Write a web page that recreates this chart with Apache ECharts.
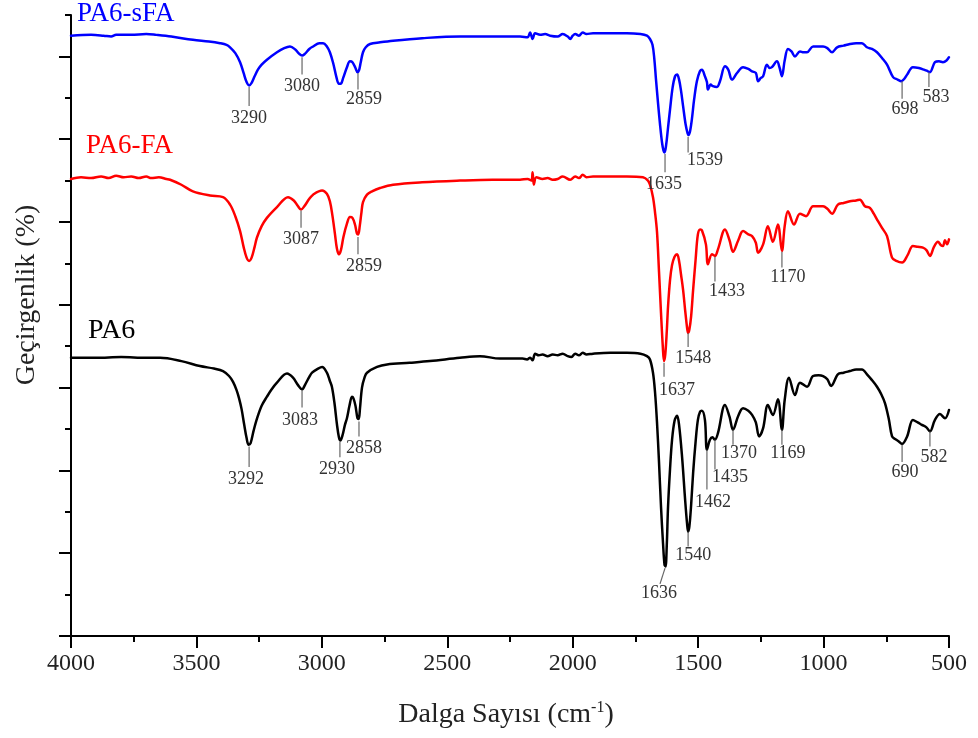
<!DOCTYPE html>
<html>
<head>
<meta charset="utf-8">
<script src="https://cdn.jsdelivr.net/npm/echarts@6/dist/echarts.min.js"></script>
<style>
html,body{margin:0;padding:0;background:#fff;}
#chart{width:978px;height:738px;}
</style>
</head>
<body>
<div id="chart"></div>
<script>
// ---- Data (wavenumber cm-1, transmittance in arbitrary offset units) ----
const seriesNames = ['PA6-sFA', 'PA6-FA', 'PA6'];

const pa6sFA = [
[4000,7.25],[3920,7.26],[3870,7.25],[3840,7.24],[3820,7.26],[3760,7.26],[3700,7.27],[3660,7.26],[3600,7.24],[3514,7.20],[3450,7.18],[3406,7.16],[3380,7.14],[3366,7.11],[3345,7.04],[3326,6.93],[3312,6.80],[3300,6.69],[3290,6.65],[3280,6.68],[3268,6.76],[3255,6.84],[3240,6.90],[3219,6.96],[3179,7.05],[3150,7.10],[3127,7.12],[3105,7.08],[3090,7.03],[3079,7.01],[3068,7.03],[3050,7.09],[3035,7.12],[3010,7.16],[2995,7.16],[2980,7.12],[2968,7.05],[2955,6.92],[2942,6.75],[2932,6.67],[2925,6.67],[2915,6.74],[2900,6.87],[2888,6.94],[2878,6.93],[2866,6.86],[2858,6.81],[2852,6.83],[2845,6.93],[2836,7.05],[2825,7.11],[2808,7.15],[2768,7.17],[2716,7.19],[2600,7.22],[2449,7.24],[2320,7.24],[2210,7.24],[2180,7.23],[2170,7.29],[2160,7.21],[2150,7.28],[2130,7.26],[2110,7.27],[2090,7.25],[2060,7.24],[2040,7.27],[2020,7.24],[2010,7.21],[2000,7.25],[1990,7.27],[1975,7.25],[1960,7.29],[1945,7.27],[1919,7.28],[1850,7.28],[1784,7.28],[1730,7.27],[1704,7.25],[1692,7.21],[1682,7.14],[1675,6.98],[1668,6.72],[1660,6.44],[1652,6.18],[1644,5.96],[1638,5.86],[1634,5.84],[1628,5.92],[1620,6.14],[1612,6.36],[1602,6.62],[1592,6.76],[1584,6.78],[1576,6.72],[1568,6.58],[1560,6.40],[1550,6.18],[1542,6.07],[1538,6.05],[1532,6.10],[1525,6.24],[1516,6.48],[1505,6.70],[1493,6.82],[1485,6.84],[1473,6.76],[1465,6.69],[1461,6.60],[1450,6.66],[1441,6.64],[1425,6.63],[1413,6.70],[1393,6.88],[1380,6.84],[1365,6.72],[1345,6.80],[1321,6.87],[1300,6.85],[1285,6.82],[1270,6.80],[1261,6.70],[1250,6.74],[1241,6.76],[1226,6.90],[1215,6.86],[1206,6.87],[1186,6.94],[1175,6.86],[1166,6.76],[1155,6.95],[1142,7.09],[1128,7.06],[1114,7.00],[1094,7.06],[1080,7.05],[1066,7.05],[1042,7.12],[1020,7.12],[1002,7.12],[985,7.10],[966,7.05],[946,7.11],[920,7.13],[895,7.15],[870,7.16],[847,7.16],[827,7.11],[807,7.09],[787,7.05],[767,6.98],[747,6.90],[723,6.75],[705,6.72],[690,6.70],[678,6.73],[667,6.78],[644,6.87],[620,6.86],[600,6.84],[584,6.82],[576,6.81],[556,6.93],[540,6.94],[524,6.93],[510,6.95],[500,6.99]
];

const pa6FA = [
[4000,5.52],[3960,5.54],[3920,5.53],[3880,5.55],[3850,5.53],[3820,5.56],[3790,5.54],[3760,5.55],[3730,5.53],[3700,5.55],[3680,5.53],[3650,5.54],[3620,5.52],[3605,5.51],[3560,5.45],[3514,5.37],[3446,5.32],[3394,5.30],[3366,5.21],[3345,5.07],[3326,4.89],[3312,4.70],[3300,4.57],[3290,4.53],[3280,4.57],[3268,4.70],[3259,4.81],[3240,4.95],[3219,5.05],[3179,5.18],[3135,5.30],[3112,5.26],[3095,5.19],[3083,5.15],[3070,5.19],[3050,5.28],[3035,5.33],[2999,5.38],[2980,5.34],[2968,5.25],[2958,5.08],[2948,4.86],[2940,4.68],[2932,4.61],[2924,4.66],[2914,4.82],[2900,4.98],[2888,5.06],[2878,5.05],[2868,4.97],[2860,4.86],[2855,4.85],[2849,4.95],[2842,5.12],[2836,5.24],[2820,5.33],[2800,5.37],[2768,5.41],[2716,5.45],[2600,5.48],[2449,5.50],[2320,5.51],[2210,5.51],[2180,5.52],[2165,5.50],[2160,5.60],[2155,5.45],[2145,5.54],[2120,5.52],[2100,5.53],[2080,5.51],[2060,5.52],[2040,5.55],[2010,5.51],[1990,5.55],[1975,5.53],[1960,5.57],[1945,5.54],[1919,5.55],[1850,5.55],[1784,5.55],[1720,5.54],[1700,5.50],[1692,5.45],[1680,5.30],[1672,5.12],[1664,4.88],[1656,4.40],[1648,3.90],[1641,3.50],[1636,3.32],[1631,3.40],[1625,3.68],[1620,3.98],[1612,4.30],[1604,4.48],[1594,4.58],[1584,4.61],[1576,4.53],[1568,4.36],[1560,4.18],[1552,3.94],[1544,3.72],[1540,3.66],[1535,3.70],[1528,3.86],[1520,4.18],[1510,4.55],[1501,4.85],[1492,4.91],[1485,4.90],[1469,4.73],[1461,4.49],[1445,4.61],[1433,4.59],[1421,4.67],[1393,4.91],[1375,4.78],[1361,4.64],[1340,4.78],[1321,4.89],[1300,4.85],[1285,4.83],[1270,4.75],[1261,4.63],[1241,4.73],[1222,4.95],[1202,4.76],[1182,4.97],[1166,4.65],[1155,4.95],[1142,5.13],[1118,4.97],[1094,5.10],[1070,5.07],[1042,5.19],[1020,5.19],[1002,5.19],[985,5.16],[966,5.10],[943,5.21],[920,5.23],[895,5.25],[870,5.26],[855,5.27],[835,5.19],[815,5.17],[800,5.10],[783,5.01],[765,4.92],[747,4.83],[727,4.57],[710,4.53],[687,4.51],[665,4.60],[644,4.71],[625,4.70],[604,4.69],[590,4.66],[576,4.59],[560,4.70],[544,4.76],[532,4.72],[524,4.71],[516,4.78],[508,4.73],[500,4.79]
];

const pa6 = [
[4000,3.36],[3900,3.36],[3800,3.37],[3700,3.36],[3645,3.36],[3560,3.32],[3486,3.26],[3430,3.23],[3394,3.20],[3370,3.14],[3354,3.07],[3340,2.97],[3330,2.87],[3320,2.74],[3310,2.56],[3300,2.39],[3292,2.31],[3284,2.33],[3272,2.48],[3258,2.63],[3240,2.78],[3219,2.89],[3200,2.98],[3179,3.06],[3139,3.17],[3115,3.12],[3095,3.03],[3079,2.98],[3066,3.04],[3050,3.13],[3039,3.18],[3015,3.23],[2999,3.25],[2980,3.18],[2968,3.08],[2960,3.01],[2950,2.82],[2940,2.56],[2932,2.40],[2926,2.36],[2918,2.42],[2908,2.55],[2900,2.63],[2890,2.78],[2880,2.89],[2874,2.87],[2866,2.78],[2858,2.63],[2853,2.62],[2848,2.75],[2840,3.00],[2830,3.12],[2820,3.18],[2780,3.25],[2740,3.28],[2650,3.30],[2569,3.32],[2450,3.36],[2370,3.38],[2290,3.35],[2200,3.35],[2182,3.34],[2170,3.36],[2160,3.33],[2150,3.41],[2135,3.39],[2120,3.40],[2100,3.38],[2080,3.40],[2060,3.39],[2040,3.41],[2020,3.38],[2005,3.37],[1990,3.41],[1975,3.39],[1960,3.42],[1945,3.40],[1919,3.41],[1850,3.42],[1784,3.42],[1730,3.41],[1704,3.38],[1692,3.34],[1680,3.18],[1672,2.95],[1664,2.58],[1656,2.10],[1648,1.56],[1640,1.12],[1634,0.86],[1630,0.84],[1625,1.10],[1620,1.56],[1612,2.02],[1604,2.37],[1594,2.60],[1584,2.66],[1576,2.55],[1564,2.16],[1552,1.65],[1544,1.35],[1540,1.26],[1535,1.32],[1528,1.58],[1520,1.97],[1510,2.35],[1501,2.61],[1492,2.71],[1485,2.72],[1473,2.61],[1465,2.25],[1453,2.37],[1443,2.40],[1433,2.37],[1421,2.45],[1393,2.79],[1375,2.65],[1361,2.49],[1340,2.66],[1321,2.75],[1300,2.72],[1285,2.67],[1270,2.58],[1257,2.41],[1241,2.51],[1222,2.79],[1202,2.67],[1182,2.86],[1166,2.49],[1155,2.85],[1138,3.12],[1114,2.91],[1094,3.06],[1066,3.01],[1042,3.14],[1020,3.15],[1002,3.14],[985,3.10],[970,3.02],[943,3.16],[920,3.18],[895,3.20],[870,3.22],[847,3.22],[827,3.16],[807,3.09],[787,3.01],[770,2.92],[755,2.81],[740,2.62],[727,2.41],[715,2.38],[700,2.35],[687,2.32],[667,2.41],[644,2.61],[625,2.58],[608,2.55],[590,2.52],[576,2.47],[556,2.61],[536,2.68],[516,2.63],[500,2.73]
];

// Peak annotations: label text, then tick top (wn, T), tick bottom (wn, T), label centre (wn, T)
const peakText = ['3290','3080','2859','1635','1539','698','583',
                  '3087','2859','1637','1548','1433','1170',
                  '3292','3083','2930','2858','1636','1540','1462','1435','1370','1169','690','582'];
const peakCoords = [
[3290,6.63,3290,6.40,3290,6.25],
[3079,6.99,3079,6.78,3079,6.64],
[2856,6.80,2856,6.60,2832,6.48],
[1632,5.82,1632,5.60,1636,5.45],
[1540,6.03,1540,5.84,1473,5.74],
[687,6.70,687,6.49,675,6.36],
[580,6.81,580,6.63,552,6.51],
[3083,5.14,3083,4.93,3083,4.79],
[2856,4.82,2856,4.61,2832,4.47],
[1636,3.30,1636,3.13,1584,2.97],
[1540,3.66,1540,3.49,1520,3.36],
[1433,4.58,1433,4.28,1385,4.16],
[1166,4.64,1166,4.45,1142,4.33],
[3290,2.29,3290,2.04,3302,1.89],
[3079,2.97,3079,2.76,3087,2.61],
[2928,2.35,2928,2.16,2940,2.01],
[2852,2.59,2852,2.41,2832,2.27],
[1632,0.82,1652,0.63,1656,0.52],
[1540,1.26,1540,1.08,1520,0.98],
[1465,2.25,1465,1.77,1441,1.61],
[1433,2.37,1433,2.01,1373,1.92],
[1361,2.49,1361,2.31,1337,2.21],
[1166,2.49,1166,2.31,1142,2.21],
[687,2.31,687,2.10,675,1.98],
[576,2.47,576,2.29,560,2.16]
];

const majorY = [0,1,2,3,4,5,6,7];
const minorY = [0.5,1.5,2.5,3.5,4.5,5.5,6.5,7.5];

// ---- Chart ----
const FONT = 'Liberation Serif';
const chart = echarts.init(document.getElementById('chart'));

const lineSeries = (name, data, color) => ({
  name, type: 'line', data, xAxisIndex: 0, yAxisIndex: 0,
  showSymbol: false, symbol: 'none',
  smooth: 0.35,
  lineStyle: { color, width: 2.5, join: 'round', cap: 'round' },
  z: 3
});

const option = {
  animation: false,
  backgroundColor: '#fff',
  grid: { left: 71, right: 29, top: 15, bottom: 102 },
  xAxis: {
    type: 'value', min: 500, max: 4000, interval: 500, inverse: true,
    axisLine: { show: true, onZero: false, lineStyle: { color: '#000', width: 2 } },
    axisTick: { show: true, length: 12, lineStyle: { color: '#000', width: 2 } },
    minorTick: { show: true, splitNumber: 2, length: 6, lineStyle: { color: '#000', width: 2 } },
    axisLabel: { fontFamily: FONT, fontSize: 24, color: '#222', margin: 16,
                 formatter: function (v) { return String(v); } },
    splitLine: { show: false }
  },
  yAxis: [
    {
      type: 'value', min: 0, max: 7.5, interval: 1, position: 'left',
      axisLine: { show: true, onZero: false, lineStyle: { color: '#000', width: 2 } },
      axisTick: { show: true, length: 12, customValues: majorY, lineStyle: { color: '#000', width: 2 } },
      axisLabel: { show: false },
      splitLine: { show: false }
    },
    {
      type: 'value', min: 0, max: 7.5, interval: 0.5, position: 'left',
      axisLine: { show: false },
      axisTick: { show: true, length: 6, customValues: minorY, lineStyle: { color: '#000', width: 2 } },
      axisLabel: { show: false },
      splitLine: { show: false }
    }
  ],
  series: [
    lineSeries(seriesNames[0], pa6sFA, '#0000ff'),
    lineSeries(seriesNames[1], pa6FA, '#ff0000'),
    lineSeries(seriesNames[2], pa6, '#000000'),
    {
      type: 'custom', xAxisIndex: 0, yAxisIndex: 0, z: 5,
      data: peakCoords,
      clip: false,
      renderItem: function (params, api) {
        const p1 = api.coord([api.value(0), api.value(1)]);
        const p2 = api.coord([api.value(2), api.value(3)]);
        const p3 = api.coord([api.value(4), api.value(5)]);
        return {
          type: 'group',
          children: [
            { type: 'line', shape: { x1: p1[0], y1: p1[1], x2: p2[0], y2: p2[1] },
              style: { stroke: '#666', lineWidth: 1.2 } },
            { type: 'text', x: p3[0], y: p3[1],
              style: { text: peakText[params.dataIndex], fontFamily: FONT, fontSize: 18,
                       fill: '#333', align: 'center', verticalAlign: 'middle' } }
          ]
        };
      }
    }
  ],
  graphic: [
    { type: 'text', x: 77, y: 14, style: { text: seriesNames[0], fontFamily: FONT, fontSize: 27, fill: '#0000ff', align: 'left', verticalAlign: 'middle' } },
    { type: 'text', x: 86, y: 146, style: { text: seriesNames[1], fontFamily: FONT, fontSize: 27, fill: '#ff0000', align: 'left', verticalAlign: 'middle' } },
    { type: 'text', x: 88, y: 331, style: { text: seriesNames[2], fontFamily: FONT, fontSize: 28, fill: '#000', align: 'left', verticalAlign: 'middle' } },
    { type: 'text', x: 27, y: 295, rotation: Math.PI / 2,
      style: { text: 'Geçirgenlik (%)', fontFamily: FONT, fontSize: 28, fill: '#222', align: 'center', verticalAlign: 'middle' } },
    { type: 'text', x: 506, y: 715,
      style: { text: '{a|Dalga Sayısı (cm}{b|-1}{a|)}', align: 'center', verticalAlign: 'middle',
        rich: {
          a: { fontFamily: FONT, fontSize: 28, fill: '#222', lineHeight: 30 },
          b: { fontFamily: FONT, fontSize: 16, fill: '#222', verticalAlign: 'top', lineHeight: 30, padding: [0, 0, 12, 0] }
        } } }
  ]
};
chart.setOption(option);
</script>
</body>
</html>
